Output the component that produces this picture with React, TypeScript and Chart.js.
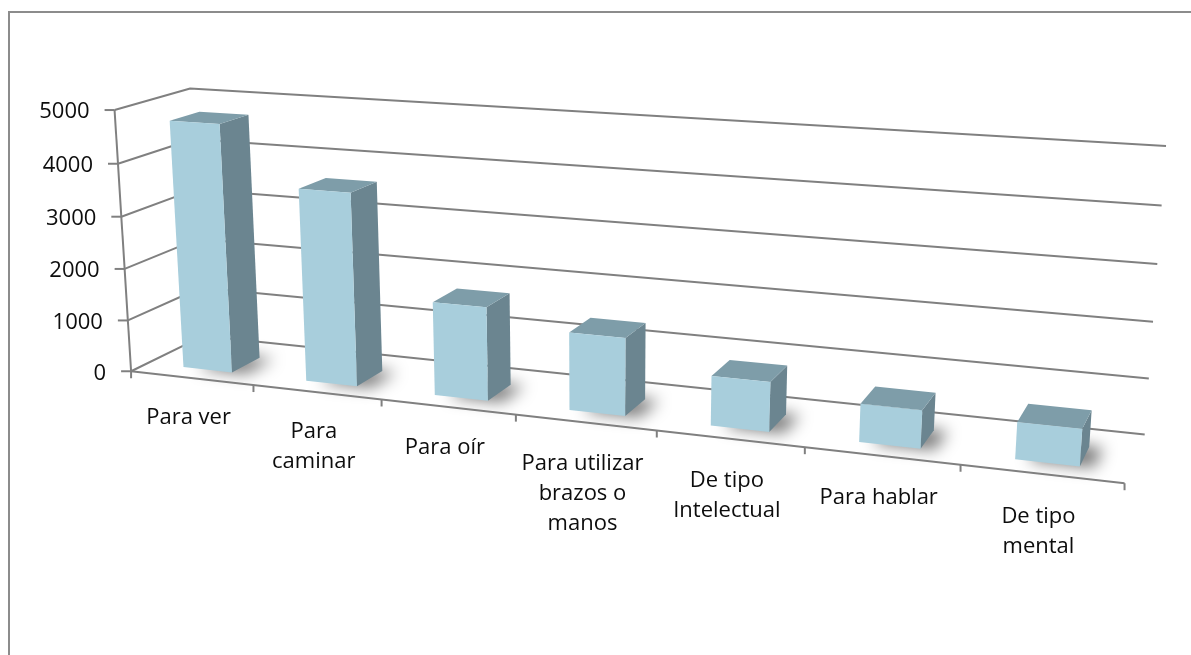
import React, { useEffect, useRef } from "react";
import { Chart, registerables } from "chart.js";

Chart.register(...registerables);

// ---------- data ----------
const categories: string[][] = [
  ["Para ver"],
  ["Para", "caminar"],
  ["Para oír"],
  ["Para utilizar", "brazos o", "manos"],
  ["De tipo", "Intelectual"],
  ["Para hablar"],
  ["De tipo", "mental"],
];
const values: number[] = [4750, 3650, 1750, 1430, 900, 680, 650];
const yTickValues: number[] = [0, 1000, 2000, 3000, 4000, 5000];

// ---------- layout / style ----------
const W = 1191;
const H = 655;
const AREA = { left: 132, right: 1125, top: 110, bottom: 372 };
// view calibration: normalized box coords (u along categories, v along values, z depth) -> screen
const VIEW: number[][] = [
  [0, 0, 0, 132, 372],
  [0, 1, 0, 115, 110],
  [0, 0, 1, 203, 336],
  [0, 1, 1, 190, 89],
  [1, 0, 1, 1145, 433],
  [1, 1, 1, 1166, 147],
  [1, 0, 0, 1125, 483],
  [1 / 7, 0, 0, 254, 386],
  [2 / 7, 0, 0, 382, 400],
  [3 / 7, 0, 0, 515, 415],
  [4 / 7, 0, 0, 656, 431],
  [5 / 7, 0, 0, 805, 447],
  [6 / 7, 0, 0, 960, 465],
  [1, 0.2, 1, 1149, 378],
  [1, 0.4, 1, 1153, 322],
  [1, 0.6, 1, 1157, 264],
  [1, 0.8, 1, 1162, 206],
  [0, 0.2, 0, 128, 320],
  [0, 0.4, 0, 124, 268],
  [0, 0.6, 0, 121, 216],
  [0, 0.8, 0, 118, 163],
];
const BAR_Z0 = 0.22;
const BAR_Z1 = 0.62;
const FONT = '22px "Open Sans"';
const TEXT = "#0d0d0d";
const GRID = "#808080";
const FRONT = "#a8cedc";
const SIDE = "#6b8590";
const TOPC = "#7e9da9";

function fitCamera(pts: number[][]): number[] {
  const N = 11;
  const M: number[][] = Array.from({ length: N }, () => new Array(N).fill(0));
  const B: number[] = new Array(N).fill(0);
  const add = (r: number[], b: number) => {
    for (let i = 0; i < N; i++) {
      B[i] += r[i] * b;
      for (let j = 0; j < N; j++) M[i][j] += r[i] * r[j];
    }
  };
  for (const [X, Y, Z, x, y] of pts) {
    add([X, Y, Z, 1, 0, 0, 0, 0, -x * X, -x * Y, -x * Z], x);
    add([0, 0, 0, 0, X, Y, Z, 1, -y * X, -y * Y, -y * Z], y);
  }
  for (let c = 0; c < N; c++) {
    let p = c;
    for (let r = c + 1; r < N; r++) if (Math.abs(M[r][c]) > Math.abs(M[p][c])) p = r;
    [M[c], M[p]] = [M[p], M[c]];
    [B[c], B[p]] = [B[p], B[c]];
    for (let r = 0; r < N; r++) {
      if (r === c) continue;
      const f = M[r][c] / M[c][c];
      if (f === 0) continue;
      for (let j = c; j < N; j++) M[r][j] -= f * M[c][j];
      B[r] -= f * B[c];
    }
  }
  return B.map((b, i) => b / M[i][i]);
}

const CAM = fitCamera(VIEW);
function proj(u: number, v: number, z: number): [number, number] {
  const p = CAM;
  const w = p[8] * u + p[9] * v + p[10] * z + 1;
  return [
    (p[0] * u + p[1] * v + p[2] * z + p[3]) / w,
    (p[4] * u + p[5] * v + p[6] * z + p[7]) / w,
  ];
}

function poly(ctx: CanvasRenderingContext2D, pts: [number, number][], fill: string) {
  ctx.beginPath();
  ctx.moveTo(pts[0][0], pts[0][1]);
  for (let i = 1; i < pts.length; i++) ctx.lineTo(pts[i][0], pts[i][1]);
  ctx.closePath();
  ctx.fillStyle = fill;
  ctx.fill();
}

function path(ctx: CanvasRenderingContext2D, pts: [number, number][]) {
  ctx.beginPath();
  ctx.moveTo(pts[0][0], pts[0][1]);
  for (let i = 1; i < pts.length; i++) ctx.lineTo(pts[i][0], pts[i][1]);
  ctx.stroke();
}

const persp3d = {
  id: "persp3d",
  afterDatasetsDraw(chart: any) {
    const ctx: CanvasRenderingContext2D = chart.ctx;
    const ca = chart.chartArea;
    const xs = chart.scales.x;
    const ys = chart.scales.y;
    const uOf = (px: number) => (px - ca.left) / (ca.right - ca.left);
    const vOf = (py: number) => (ca.bottom - py) / (ca.bottom - ca.top);

    ctx.save();
    // outer frame
    ctx.strokeStyle = "#8c8c8c";
    ctx.lineWidth = 2;
    path(ctx, [[9, H], [9, 12], [W, 12]]);

    // gridlines on side wall and back wall
    ctx.strokeStyle = GRID;
    ctx.lineWidth = 2;
    ctx.lineJoin = "round";
    yTickValues.forEach((t) => {
      const v = vOf(ys.getPixelForValue(t));
      path(ctx, [proj(0, v, 0), proj(0, v, 1), proj(1, v, 1)]);
    });

    // bars (shadows first)
    const meta = chart.getDatasetMeta(0);
    const bars = meta.data.map((el: any) => {
      const p = el.getProps(["x", "y", "base", "width"], true);
      return {
        u0: uOf(p.x - p.width / 2),
        u1: uOf(p.x + p.width / 2),
        vt: vOf(p.y),
        vb: vOf(p.base),
      };
    });
    ctx.save();
    ctx.filter = "blur(8px)";
    bars.forEach((b: any) => {
      const fp = [
        proj(b.u0, b.vb, BAR_Z0),
        proj(b.u1, b.vb, BAR_Z0),
        proj(b.u1, b.vb, BAR_Z1),
        proj(b.u0, b.vb, BAR_Z1),
      ].map(([x, y]) => [x + 14, y + 1] as [number, number]);
      poly(ctx, fp, "rgba(0,0,0,0.55)");
    });
    ctx.restore();

    bars.forEach((b: any) => {
      const { u0, u1, vt, vb } = b;
      poly(ctx, [proj(u1, vb, BAR_Z0), proj(u1, vb, BAR_Z1), proj(u1, vt, BAR_Z1), proj(u1, vt, BAR_Z0)], SIDE);
      poly(ctx, [proj(u0, vt, BAR_Z0), proj(u1, vt, BAR_Z0), proj(u1, vt, BAR_Z1), proj(u0, vt, BAR_Z1)], TOPC);
      poly(ctx, [proj(u0, vb, BAR_Z0), proj(u1, vb, BAR_Z0), proj(u1, vt, BAR_Z0), proj(u0, vt, BAR_Z0)], FRONT);
    });

    // axes
    ctx.strokeStyle = GRID;
    ctx.lineWidth = 2;
    path(ctx, [proj(0, 0, 0), proj(0, 1, 0)]);
    path(ctx, [proj(0, 0, 0), proj(1, 0, 0)]);

    // y ticks + labels
    ctx.font = FONT;
    ctx.fillStyle = TEXT;
    ctx.textAlign = "right";
    ctx.textBaseline = "middle";
    yTickValues.forEach((t) => {
      const v = vOf(ys.getPixelForValue(t));
      const [ax, ay] = proj(0, v, 0);
      path(ctx, [[ax - 10, ay], [ax, ay]]);
      ctx.fillText(String(t), ax - 25, ay + 2);
    });

    // x ticks + labels
    const n = chart.data.labels.length;
    for (let i = 0; i <= n; i++) {
      const u = uOf(xs.getPixelForValue(i - 0.5));
      const [tx, ty] = proj(u, 0, 0);
      path(ctx, [[tx, ty], [tx, ty + 7]]);
    }
    ctx.textAlign = "center";
    for (let i = 0; i < n; i++) {
      const u = uOf(xs.getPixelForValue(i));
      const [cx, cy] = proj(u, 0, 0);
      const lab = chart.data.labels[i];
      const lines: string[] = Array.isArray(lab) ? lab : [String(lab)];
      lines.forEach((s, k) => {
        ctx.fillText(s, cx - 3, cy + 39 + 4 * u + k * 30);
      });
    }
    ctx.restore();
  },
};

export default function App() {
  const ref = useRef<HTMLCanvasElement | null>(null);
  useEffect(() => {
    if (!ref.current) return;
    const chart = new Chart(ref.current, {
      type: "bar",
      data: {
        labels: categories,
        datasets: [
          {
            data: values,
            backgroundColor: "rgba(0,0,0,0)",
            borderWidth: 0,
            barPercentage: 0.4,
            categoryPercentage: 1,
          },
        ],
      },
      options: {
        responsive: false,
        animation: false,
        devicePixelRatio: 1,
        layout: {
          padding: { left: AREA.left, right: W - AREA.right, top: AREA.top, bottom: H - AREA.bottom },
        },
        plugins: { legend: { display: false }, tooltip: { enabled: false } },
        scales: {
          x: { display: false },
          y: { display: false, min: yTickValues[0], max: yTickValues[yTickValues.length - 1] },
        },
      },
      plugins: [persp3d],
    } as any);
    return () => chart.destroy();
  }, []);
  return (
    <div style={{ position: "fixed", left: 0, top: 0, width: W, height: H, background: "#fff" }}>
      <canvas ref={ref} width={W} height={H} style={{ display: "block", width: W, height: H }} />
    </div>
  );
}
